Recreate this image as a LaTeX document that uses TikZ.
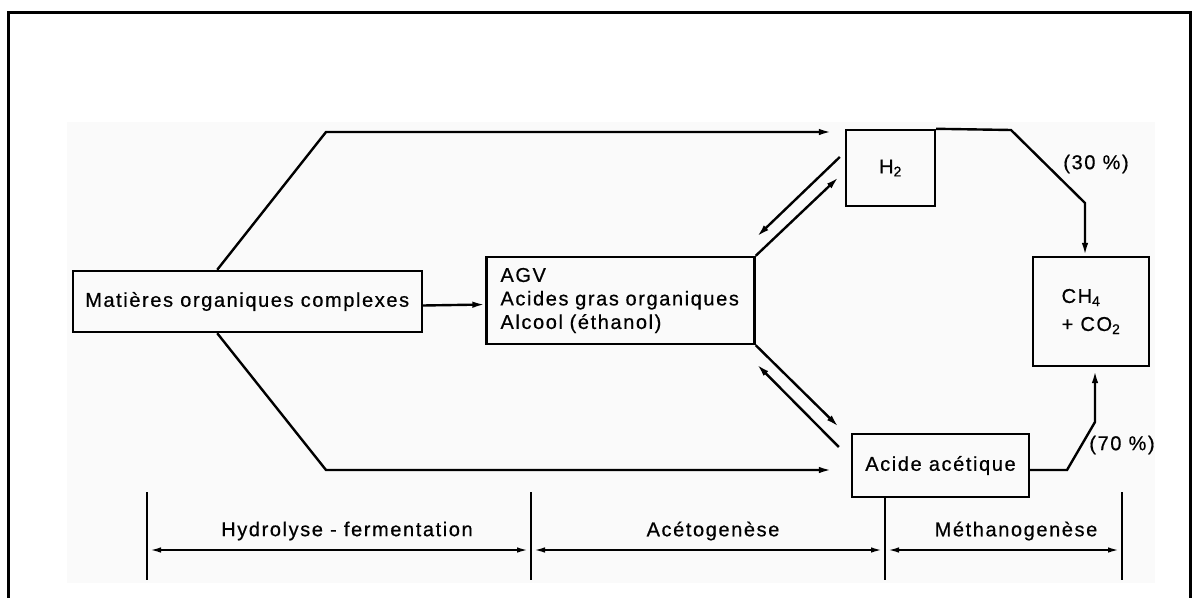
\documentclass[tikz,border=0pt]{standalone}
\usepackage{fontspec}
\setmainfont{Liberation Sans}[LetterSpace=8,FakeBold=0.6]
\usetikzlibrary{arrows.meta}
\begin{document}
\begin{tikzpicture}[x=1pt,y=-1pt, line width=2.4pt,
  box/.style={draw, line width=2.4pt, inner sep=0pt, font=\fontsize{20}{23.5}\selectfont},
  lbl/.style={inner sep=0pt, font=\fontsize{20}{24}\selectfont},
  arr/.style={-{Latex[length=13pt,width=6.5pt]}},
  darr/.style={line width=1.8pt,{Latex[length=11pt,width=5.5pt]}-{Latex[length=11pt,width=5.5pt]}, shorten <=3pt, shorten >=3pt},
  divider/.style={line width=2.2pt}]
\useasboundingbox (0,0) rectangle (1204,597);
\fill[black!2] (67,122) rectangle (1155,583);
\begin{scope}
\clip (0,0) rectangle (1204,597);
\draw[line width=3pt] (8.5,640) -- (8.5,12) -- (1190,12) -- (1190,640);
\end{scope}

% boxes
\node[box, minimum width=349pt, minimum height=61pt] (mat) at (247.2,301.5) {Matières organiques complexes};
\node[box, text width=240pt, align=left, inner xsep=14pt, minimum height=87pt] (agv) at (620.5,300.5) {AGV\\Acides gras organiques\\Alcool (éthanol)};
\node[box, minimum width=89pt, minimum height=76pt] (h2) at (890.5,168) {H\textsubscript{2}};
\node[box, minimum width=116pt, minimum height=109pt, align=left] (ch4) at (1091,311.5) {CH\textsubscript{4}\\[4.5pt]+ CO\textsubscript{2}};
\node[box, minimum width=177pt, minimum height=63pt] (ac) at (940.5,465.5) {Acide acétique};

% labels
\node[lbl] (p30) at (1096,164) {(30 \%)};
\node[lbl] (p70) at (1122,445) {(70 \%)};
\node[lbl] (hyd) at (347,531) {Hydrolyse - fermentation};
\node[lbl] (ace) at (713,531) {Acétogenèse};
\node[lbl] (met) at (1016,531) {Méthanogenèse};

% route coordinates
\coordinate (t1) at (326,132);
\coordinate (b1) at (326,470);
\coordinate (h1) at (1011,130);
\coordinate (h3) at (1085,203);
\coordinate (a1) at (1067,470);
\coordinate (a2) at (1095,422);

% connectors
\draw[arr] ([yshift=-4pt]mat.east) -- ([yshift=-4pt]agv.west);
\draw[arr, shorten >=13pt] ([xshift=-30pt]mat.north) -- (t1) -- (h2.west |- t1);
\draw[arr, shorten >=19pt] ([xshift=-30pt]mat.south) -- (b1) -- (ac.west |- b1);
\draw[arr] (h2.north east) -- (h1) -- (h3) -- (h3 |- ch4.north);
\draw[arr, shorten >=3pt] (ac.east |- a1) -- (a1) -- (a2) -- (a2 |- ch4.south);

\draw[arr] (agv.north east) -- ([xshift=-6pt,yshift=-9pt]h2.west);
\draw[arr] ([xshift=-5pt,yshift=11pt]h2.west) -- ([xshift=1pt,yshift=19pt]agv.north east);
\draw[arr] (agv.south east) -- ([xshift=-12pt,yshift=38.5pt]ac.west);
\draw[arr] ([xshift=-12pt,yshift=18.5pt]ac.west) -- ([xshift=1pt,yshift=-19pt]agv.south east);

% phase dividers
\coordinate (d1t) at (147,492); \coordinate (d1b) at (147,580);
\coordinate (d2t) at (531,492); \coordinate (d2b) at (531,580);
\coordinate (d3b) at (885,580);
\coordinate (d4t) at (1122,492); \coordinate (d4b) at (1122,580);
\draw[divider] (d1t) -- (d1b);
\draw[divider] (d2t) -- (d2b);
\draw[divider] (ac.south -| d3b) -- (d3b);
\draw[divider] (d4t) -- (d4b);

\coordinate (r1) at (147,550);
\coordinate (r2) at (531,550);
\coordinate (r3) at (885,550);
\coordinate (r4) at (1122,550);
\draw[darr] (r1) -- (r2);
\draw[darr] (r2) -- (r3);
\draw[darr] (r3) -- (r4);
\end{tikzpicture}
\end{document}
